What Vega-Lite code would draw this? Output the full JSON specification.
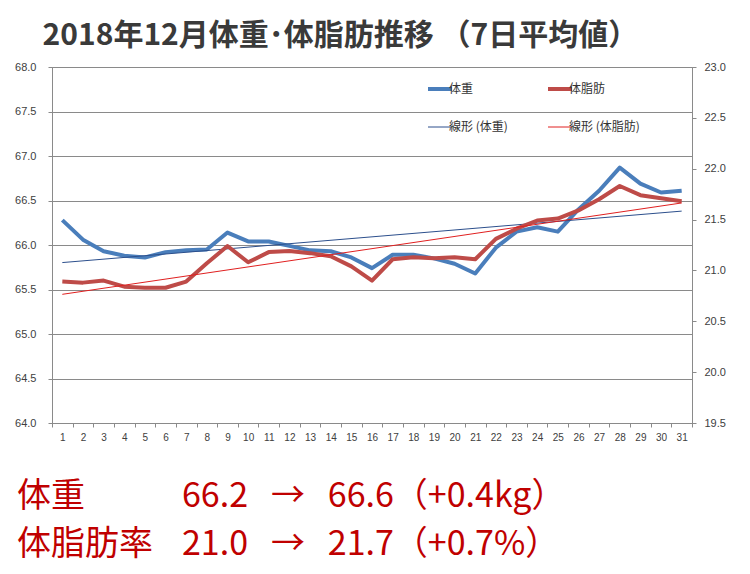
{
  "$schema": "https://vega.github.io/schema/vega-lite/v6.json",
  "width": 640,
  "height": 356,
  "autosize": {"type": "none"},
  "padding": {"left": 52, "top": 67, "right": 58, "bottom": 151},
  "background": "white",
  "title": {
    "text": "2018年12月体重･体脂肪推移 （7日平均値）",
    "anchor": "start",
    "dx": 28,
    "offset": 10,
    "font": "Noto Sans CJK JP",
    "fontSize": 30,
    "fontWeight": "bold",
    "color": "#3a3a3a"
  },
  "config": {
    "view": {"stroke": "#8a8a8a", "strokeWidth": 1},
    "axis": {
      "labelFont": "Liberation Sans",
      "labelFontSize": 11,
      "labelColor": "#404040",
      "domainColor": "#8a8a8a",
      "tickColor": "#8a8a8a",
      "gridColor": "#8a8a8a",
      "title": null
    },
    "legend": {
      "labelFont": "Noto Sans CJK JP",
      "labelFontSize": 12,
      "labelColor": "#333333"
    }
  },
  "data": {
    "values": [
      {"day": 1, "weight": 66.28, "fat": 20.89},
      {"day": 2, "weight": 66.06, "fat": 20.88},
      {"day": 3, "weight": 65.93, "fat": 20.90},
      {"day": 4, "weight": 65.88, "fat": 20.84},
      {"day": 5, "weight": 65.86, "fat": 20.83},
      {"day": 6, "weight": 65.92, "fat": 20.83},
      {"day": 7, "weight": 65.94, "fat": 20.89},
      {"day": 8, "weight": 65.95, "fat": 21.07},
      {"day": 9, "weight": 66.14, "fat": 21.24},
      {"day": 10, "weight": 66.04, "fat": 21.08},
      {"day": 11, "weight": 66.04, "fat": 21.18},
      {"day": 12, "weight": 65.99, "fat": 21.19},
      {"day": 13, "weight": 65.94, "fat": 21.17},
      {"day": 14, "weight": 65.93, "fat": 21.14},
      {"day": 15, "weight": 65.86, "fat": 21.04},
      {"day": 16, "weight": 65.74, "fat": 20.90},
      {"day": 17, "weight": 65.89, "fat": 21.11},
      {"day": 18, "weight": 65.89, "fat": 21.13},
      {"day": 19, "weight": 65.85, "fat": 21.12},
      {"day": 20, "weight": 65.79, "fat": 21.13},
      {"day": 21, "weight": 65.68, "fat": 21.11},
      {"day": 22, "weight": 65.97, "fat": 21.31},
      {"day": 23, "weight": 66.15, "fat": 21.41},
      {"day": 24, "weight": 66.20, "fat": 21.49},
      {"day": 25, "weight": 66.15, "fat": 21.51},
      {"day": 26, "weight": 66.40, "fat": 21.59},
      {"day": 27, "weight": 66.61, "fat": 21.70},
      {"day": 28, "weight": 66.87, "fat": 21.83},
      {"day": 29, "weight": 66.69, "fat": 21.74},
      {"day": 30, "weight": 66.59, "fat": 21.71},
      {"day": 31, "weight": 66.61, "fat": 21.68}
    ]
  },
  "layer": [
    {
      "encoding": {
        "x": {
          "field": "day",
          "type": "quantitative",
          "scale": {"domain": [0.5, 31.5], "nice": false, "zero": false},
          "axis": {
            "values": [1,2,3,4,5,6,7,8,9,10,11,12,13,14,15,16,17,18,19,20,21,22,23,24,25,26,27,28,29,30,31],
            "ticks": false,
            "grid": false,
            "labelFontSize": 10,
            "labelPadding": 9,
            "domain": true
          }
        },
        "y": {
          "type": "quantitative",
          "scale": {"domain": [64, 68], "nice": false, "zero": false},
          "axis": {
            "orient": "left",
            "values": [64, 64.5, 65, 65.5, 66, 66.5, 67, 67.5, 68],
            "format": ".1f",
            "grid": true,
            "tickSize": 4,
            "labelPadding": 12
          }
        },
        "color": {
          "type": "nominal",
          "scale": {
            "domain": ["体重", "線形 (体重)", "体脂肪", "線形 (体脂肪)"],
            "range": ["#4a7ebb", "#2c4f8c", "#be4b48", "#e02020"]
          },
          "legend": {
            "title": null,
            "orient": "none",
            "legendX": 382,
            "legendY": 16,
            "columns": 2,
            "columnPadding": 32,
            "rowPadding": 24,
            "symbolType": "stroke",
            "symbolSize": 576,
            "labelOffset": 3,
            "encode": {
              "symbols": {
                "update": {
                  "strokeWidth": {"signal": "indexof(['体重', '体脂肪'], datum.value) >= 0 ? 4 : 1"}
                }
              }
            }
          }
        }
      },
      "layer": [
        {
          "mark": {"type": "line", "strokeJoin": "round", "strokeWidth": 4},
          "encoding": {
            "y": {"field": "weight"},
            "color": {"datum": "体重"}
          }
        },
        {
          "transform": [{"regression": "weight", "on": "day", "extent": [1, 31]}],
          "mark": {"type": "line", "strokeWidth": 1},
          "encoding": {
            "y": {"field": "weight"},
            "color": {"datum": "線形 (体重)"}
          }
        }
      ]
    },
    {
      "encoding": {
        "x": {
          "field": "day",
          "type": "quantitative",
          "scale": {"domain": [0.5, 31.5], "nice": false, "zero": false},
          "axis": {
            "orient": "bottom",
            "values": [0.5,1.5,2.5,3.5,4.5,5.5,6.5,7.5,8.5,9.5,10.5,11.5,12.5,13.5,14.5,15.5,16.5,17.5,18.5,19.5,20.5,21.5,22.5,23.5,24.5,25.5,26.5,27.5,28.5,29.5,30.5,31.5],
            "labels": false,
            "grid": false,
            "domain": false,
            "ticks": true,
            "tickSize": 4
          }
        },
        "y": {
          "type": "quantitative",
          "scale": {"domain": [19.5, 23], "nice": false, "zero": false},
          "axis": {
            "orient": "right",
            "values": [19.5, 20, 20.5, 21, 21.5, 22, 22.5, 23],
            "format": ".1f",
            "grid": false,
            "tickSize": 4,
            "labelPadding": 8
          }
        },
        "color": {
          "type": "nominal",
          "scale": {
            "domain": ["体重", "線形 (体重)", "体脂肪", "線形 (体脂肪)"],
            "range": ["#4a7ebb", "#2c4f8c", "#be4b48", "#e02020"]
          }
        }
      },
      "layer": [
        {
          "mark": {"type": "line", "strokeJoin": "round", "strokeWidth": 4},
          "encoding": {
            "y": {"field": "fat"},
            "color": {"datum": "体脂肪"}
          }
        },
        {
          "transform": [{"regression": "fat", "on": "day", "extent": [1, 31]}],
          "mark": {"type": "line", "strokeWidth": 1},
          "encoding": {
            "y": {"field": "fat"},
            "color": {"datum": "線形 (体脂肪)"}
          }
        }
      ]
    },
    {
      "data": {
        "values": [
          {"item": "体重", "part": "label", "text": "体重"},
          {"item": "体重", "part": "value", "text": "66.2\u00a0\u00a0\u00a0→\u00a0\u00a0\u00a066.6（+0.4kg）"},
          {"item": "体脂肪率", "part": "label", "text": "体脂肪率"},
          {"item": "体脂肪率", "part": "value", "text": "21.0\u00a0\u00a0\u00a0→\u00a0\u00a0\u00a021.7（+0.7%）"}
        ]
      },
      "mark": {
        "type": "text",
        "align": "left",
        "baseline": "middle",
        "font": "Noto Sans CJK JP",
        "fontSize": 34,
        "color": "#c00000"
      },
      "encoding": {
        "x": {
          "field": "part",
          "type": "nominal",
          "scale": {"type": "point", "domain": ["label", "value"], "range": [-35, 130], "padding": 0},
          "axis": null
        },
        "y": {
          "field": "item",
          "type": "nominal",
          "scale": {"type": "point", "domain": ["体重", "体脂肪率"], "range": [430, 478], "padding": 0},
          "axis": null
        },
        "text": {"field": "text"}
      }
    }
  ],
  "resolve": {"scale": {"x": "independent", "y": "independent"}}
}
